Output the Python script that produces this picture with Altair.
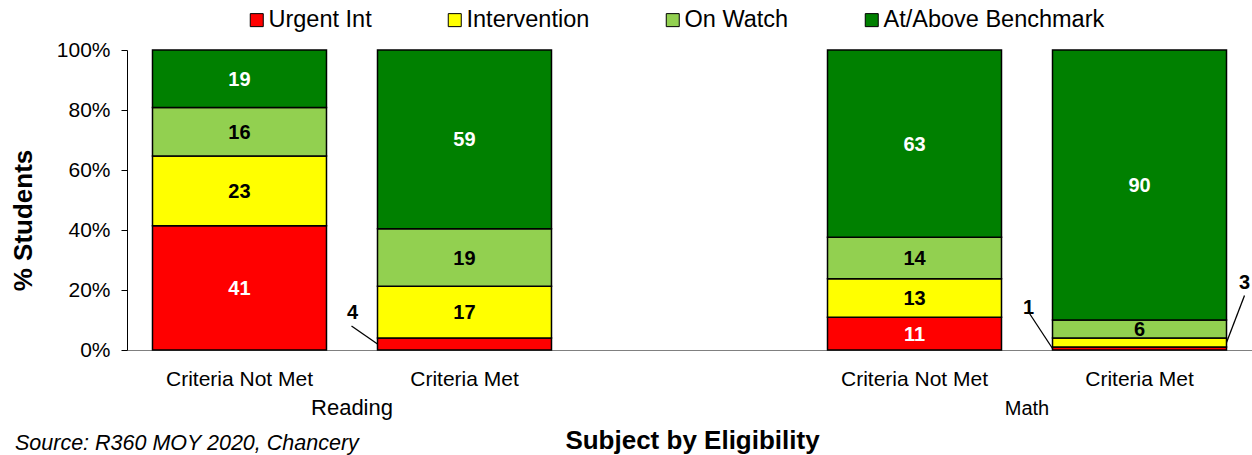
import altair as alt
import pandas as pd

# Performance levels (bottom to top of each stack) and their fills
levels = ["Urgent Int", "Intervention", "On Watch", "At/Above Benchmark"]
level_colors = ["#FF0000", "#FFFF00", "#92D050", "#008000"]

# One bar per subject / eligibility group
subjects = ["Reading", "Reading", "Math", "Math"]
eligibility = ["Criteria Not Met", "Criteria Met", "Criteria Not Met", "Criteria Met"]

# Student counts (percent) per level for each bar
urgent = [41, 4, 11, 1]
intervention = [23, 17, 13, 3]
on_watch = [16, 19, 14, 6]
benchmark = [19, 59, 63, 90]

source_note = "Source: R360 MOY 2020, Chancery"
x_title = "Subject by Eligibility"
y_title = "% Students"

series = [urgent, intervention, on_watch, benchmark]
rows = []
for b, (subj, elig) in enumerate(zip(subjects, eligibility)):
    for i, lvl in enumerate(levels):
        rows.append({"slot": f"{subj}|{elig}", "subject": subj, "level": lvl,
                     "idx": i, "value": series[i][b]})
df = pd.DataFrame(rows)

# Band slots: the two subjects are separated by an empty slot
slot_keys = [f"{s}|{e}" for s, e in zip(subjects, eligibility)]
slot_domain = slot_keys[:2] + ["gap"] + slot_keys[2:]

x_scale = alt.Scale(domain=slot_domain, paddingInner=0.2267, paddingOuter=0.1133)
y_scale = alt.Scale(domain=[0, 1], nice=False)

FONT = "Liberation Sans"

x_axis = alt.Axis(
    title=x_title, titleFontSize=26, titleFontWeight="bold", titleColor="black",
    titleX=565, titleY=98, titleAlign="center", titleBaseline="alphabetic",
    labelExpr="indexof(datum.label, '|') > 0 ? split(datum.label, '|')[1] : ''",
    labelFontSize=21, labelColor="black", labelPadding=35.5, labelBaseline="alphabetic",
    labelAngle=0, ticks=False, tickSize=0, domainColor="#808080", domainWidth=1,
    grid=False,
)
y_axis = alt.Axis(
    title=y_title, titleFontSize=26, titleFontWeight="bold", titleColor="black",
    titleX=-96, titleY=170, titleAngle=270, titleAlign="center", titleBaseline="alphabetic",
    values=[0, 0.2, 0.4, 0.6, 0.8, 1.0], format="%", labelFontSize=21, labelColor="black",
    labelPadding=11, tickSize=6, tickColor="black", domainColor="black", domainWidth=1,
    grid=False,
)
legend = alt.Legend(
    orient="none", legendX=118, legendY=-42, direction="horizontal", title=None,
    symbolType="square", symbolSize=169, symbolStrokeColor="black", symbolStrokeWidth=1,
    labelFontSize=23.5, labelColor="black", labelOffset=0, columnPadding=71,
    padding=0, labelLimit=400,
)

base = alt.Chart(df).transform_stack(
    stack="value", groupby=["slot"], as_=["v0", "v1"], offset="normalize",
    sort=[alt.SortField("idx", "ascending")],
).transform_calculate(mid="(datum.v0 + datum.v1) / 2")

bars = base.mark_bar(stroke="black", strokeWidth=1.5).encode(
    x=alt.X("slot:N", scale=x_scale, axis=x_axis),
    y=alt.Y("v0:Q", scale=y_scale, axis=y_axis),
    y2="v1:Q",
    color=alt.Color("level:N", scale=alt.Scale(domain=levels, range=level_colors),
                    legend=legend),
)

# Values inside their segments
inside = base.transform_filter("datum.value >= 5").mark_text(
    fontSize=20, fontWeight="bold", align="center", baseline="middle", dy=1,
).encode(
    x=alt.X("slot:N", bandPosition=0.5),
    y=alt.Y("mid:Q"),
    text=alt.Text("value:Q"),
    color=alt.condition(
        "datum.level == 'Urgent Int' || datum.level == 'At/Above Benchmark'",
        alt.value("white"), alt.value("black")),
)

# Thin segments get a callout with a leader line
def callout(slot, level, edge, line_dx, line_dy, text_dx, text_dy):
    sel = base.transform_filter(
        f"datum.slot == '{slot}' && datum.level == '{level}'")
    line = sel.mark_rule(color="black", strokeWidth=1.3, x2Offset=line_dx,
                         y2Offset=line_dy).encode(
        x=alt.X("slot:N", bandPosition=edge),
        x2=alt.X2("slot", bandPosition=edge),
        y=alt.Y("mid:Q"),
        y2=alt.Y2("mid"),
    )
    txt = sel.mark_text(fontSize=20, fontWeight="bold", color="black",
                        align="center", baseline="middle",
                        dx=text_dx, dy=text_dy).encode(
        x=alt.X("slot:N", bandPosition=edge),
        y=alt.Y("mid:Q"),
        text=alt.Text("value:Q"),
    )
    return [line, txt]

callouts = (
    callout("Reading|Criteria Met", "Urgent Int", 0, -26, -18, -25, -31)
    + callout("Math|Criteria Met", "Urgent Int", 0, -23, -35, -24, -41)
    + callout("Math|Criteria Met", "Intervention", 1, 18, -47, 18, -60)
)

# Subject names centred under each pair of bars
group_font = {"Reading": 22, "Math": 20}
groups = []
for subj in ["Reading", "Math"]:
    gdf = pd.DataFrame({"slot": [f"{subj}|Criteria Not Met"], "subject": [subj]})
    groups.append(
        alt.Chart(gdf).mark_text(fontSize=group_font[subj], color="black",
                                 align="center", baseline="alphabetic", dx=112.5).encode(
            x=alt.X("slot:N", bandPosition=0.5),
            y=alt.value(365),
            text="subject:N",
        )
    )

note = alt.Chart(pd.DataFrame({"t": [source_note]})).mark_text(
    fontSize=21.5, fontStyle="italic", color="black", align="left", baseline="alphabetic",
).encode(x=alt.value(-112), y=alt.value(400), text="t:N")

chart = alt.layer(bars, inside, *callouts, *groups, note).properties(
    width=1125, height=300,
    autosize=alt.AutoSizeParams(type="none"),
    padding={"left": 127, "top": 50, "right": 0, "bottom": 105},
).configure(font=FONT).configure_view(stroke=None)

chart.save("out.html", embed_options={"renderer": "svg", "actions": False})
